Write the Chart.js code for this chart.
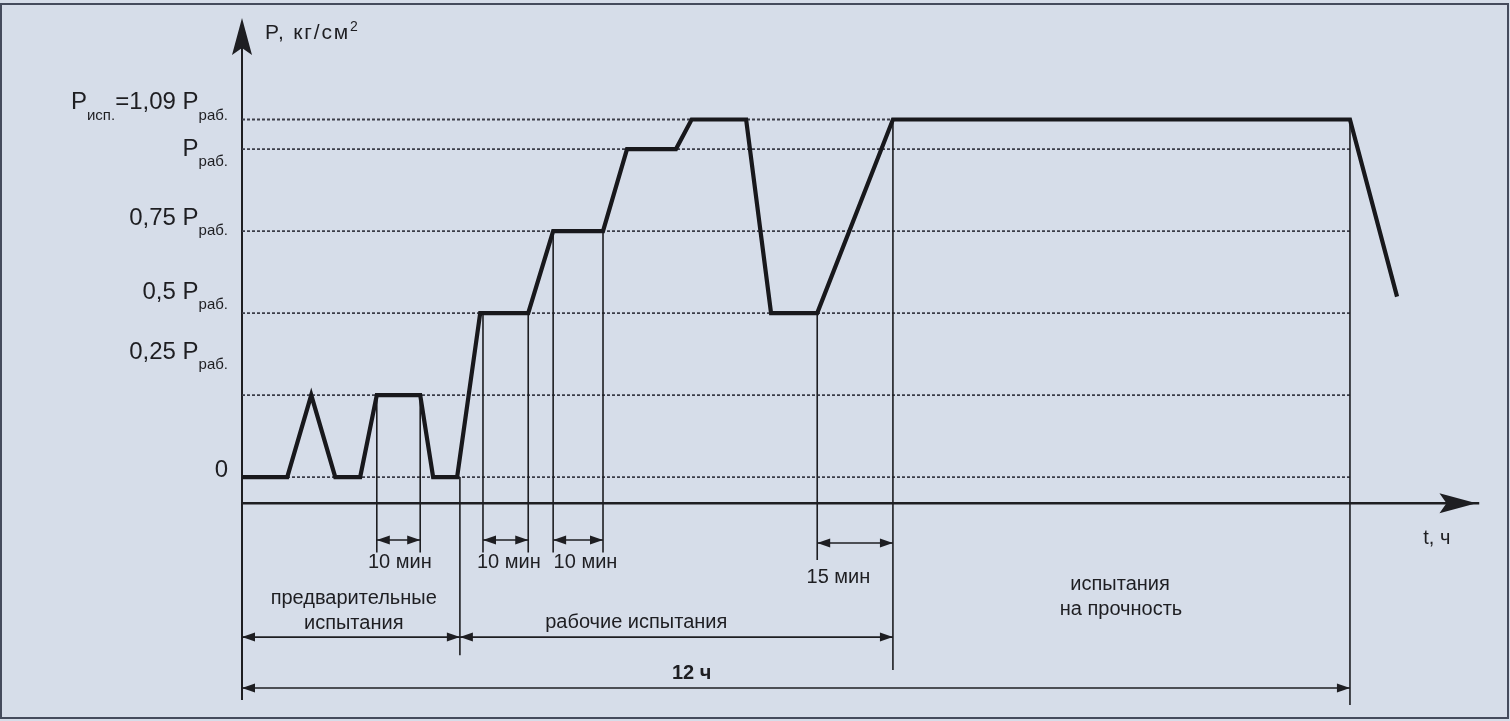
<!DOCTYPE html>
<html>
<head>
<meta charset="utf-8">
<script src="https://cdn.jsdelivr.net/npm/chart.js@4.4.1/dist/chart.umd.min.js"></script>
<style>
  html, body { margin: 0; padding: 0; background: #d6dde9; }
  #wrap { width: 1510px; height: 721px; position: relative; }
</style>
</head>
<body>
<div id="wrap"><canvas id="chart"></canvas></div>
<script>
// time in hours (schematic), pressure as a share of P раб.
const timeH    = [0, 0.49, 0.75, 1.01, 1.28, 1.46, 1.93, 2.07, 2.33, 2.58, 3.10, 3.37, 3.91, 4.17, 4.70, 4.87, 5.46, 5.73, 6.23, 7.05, 12.0, 12.51];
const pressure = [0, 0,    0.25, 0,    0,    0.25, 0.25, 0,    0,    0.5,  0.5,  0.75, 0.75, 1.0,  1.0,  1.09, 1.09, 0.5,  0.5,  1.09, 1.09, 0.55];

// pressure levels (dotted lines) and their labels
const levels = [0, 0.25, 0.5, 0.75, 1.0, 1.09];
const levelLabels = [
  [['0']],
  [['0,25 P'], ['раб.', 1]],
  [['0,5 P'], ['раб.', 1]],
  [['0,75 P'], ['раб.', 1]],
  [['P'], ['раб.', 1]],
  [['P'], ['исп.', 1], ['=1,09 P'], ['раб.', 1]]
];

// thin vertical marks: time, from level, down to
const markX      = [1.46, 1.93, 2.36, 2.61, 3.10, 3.37, 3.91, 6.23, 7.05, 12.0];
const markTop    = [0.25, 0.25, 0,    0.5,  0.5,  0.75, 0.75, 0.5,  1.09, 1.09];
const markBottom = [-0.23, -0.23, -0.543, -0.23, -0.23, -0.23, -0.23, -0.253, -0.588, -0.695];

// dimension arrows: from, to, level
const spanFrom  = [1.46, 2.61, 3.37, 6.23, 0,      2.36,   0];
const spanTo    = [1.93, 3.10, 3.91, 7.05, 2.36,   7.05,   12.0];
const spanLevel = [-0.192, -0.192, -0.192, -0.201, -0.488, -0.488, -0.643];

// captions under the axis
const noteText = ['10 мин', '10 мин', '10 мин', '15 мин', 'предварительные', 'испытания', 'рабочие испытания', 'испытания', 'на прочность', '12 ч', 't, ч'];
const noteX    = [1.71, 2.89, 3.72, 6.46, 1.21, 1.21, 4.27, 9.51, 9.52, 4.87, 12.94];
const noteY    = [-0.259, -0.259, -0.259, -0.305, -0.369, -0.445, -0.442, -0.329, -0.405, -0.598, -0.186];

const INK = '#1e1e22';
const FONT = '"Liberation Sans", Arial, sans-serif';
const labelShift = [-7, -43, -21, -13, 0, -17];

const datasets = [{
  data: timeH.map((t, i) => ({x: t, y: pressure[i]})),
  borderColor: '#18181c',
  borderWidth: 4.2,
  borderJoinStyle: 'miter',
  pointRadius: 0,
  tension: 0,
  order: 0
}];
markX.forEach((t, i) => datasets.push({
  data: [{x: t, y: markTop[i]}, {x: t, y: markBottom[i]}],
  borderColor: INK,
  borderWidth: 1.6,
  pointRadius: 0,
  order: 1
}));
levels.forEach(l => datasets.push({
  data: [{x: 0, y: l}, {x: 12, y: l}],
  borderColor: '#3b3d48',
  borderWidth: 1.8,
  borderDash: [3, 2],
  pointRadius: 0,
  order: 2
}));

function arrowHead(ctx, x, y, dir, len, half) {
  ctx.beginPath();
  if (dir === 'up') {
    ctx.moveTo(x, y); ctx.lineTo(x - half, y + len); ctx.lineTo(x, y + len - 7); ctx.lineTo(x + half, y + len);
  } else {
    ctx.moveTo(x, y); ctx.lineTo(x - len, y - half); ctx.lineTo(x - len + 7, y); ctx.lineTo(x - len, y + half);
  }
  ctx.closePath();
  ctx.fill();
}

function smallHead(ctx, x, y, dir) {
  ctx.beginPath();
  const s = dir === 'right' ? -1 : 1;
  ctx.moveTo(x, y);
  ctx.lineTo(x + s * 13, y - 4.5);
  ctx.lineTo(x + s * 13, y + 4.5);
  ctx.closePath();
  ctx.fill();
}

function richText(ctx, parts, xRight, yMid) {
  const MAIN = '24px ' + FONT, SUB = '15px ' + FONT;
  let w = 0;
  parts.forEach(p => { ctx.font = p[1] ? SUB : MAIN; w += ctx.measureText(p[0]).width; });
  let x = xRight - w;
  parts.forEach(p => {
    ctx.font = p[1] ? SUB : MAIN;
    ctx.fillText(p[0], x, p[1] ? yMid + 13 : yMid);
    x += ctx.measureText(p[0]).width;
  });
}

const overlay = {
  id: 'overlay',
  beforeDatasetsDraw(chart) {
    const ctx = chart.ctx, sx = chart.scales.x, sy = chart.scales.y;
    const x0 = sx.getPixelForValue(0);
    ctx.save();
    ctx.strokeStyle = INK;
    ctx.fillStyle = INK;
    // P axis
    ctx.lineWidth = 2;
    ctx.beginPath();
    ctx.moveTo(x0, sy.getPixelForValue(-0.68));
    ctx.lineTo(x0, sy.getPixelForValue(1.37));
    ctx.stroke();
    arrowHead(ctx, x0, sy.getPixelForValue(1.3995), 'up', 37, 10);
    // t axis
    const ty = sy.getPixelForValue(-0.08);
    ctx.lineWidth = 2.4;
    ctx.beginPath();
    ctx.moveTo(x0, ty);
    ctx.lineTo(sx.getPixelForValue(13.4), ty);
    ctx.stroke();
    arrowHead(ctx, sx.getPixelForValue(13.37), ty, 'right', 37, 10);
    ctx.restore();
  },
  afterDatasetsDraw(chart) {
    const ctx = chart.ctx, sx = chart.scales.x, sy = chart.scales.y;
    const x0 = sx.getPixelForValue(0);
    ctx.save();
    ctx.fillStyle = INK;
    ctx.strokeStyle = INK;
    ctx.textBaseline = 'middle';

    // level labels
    ctx.textAlign = 'left';
    levels.forEach((l, i) => richText(ctx, levelLabels[i], x0 - 14, sy.getPixelForValue(l) + labelShift[i]));

    // axis title
    ctx.font = '21px ' + FONT;
    ctx.letterSpacing = '1.8px';
    ctx.fillText('P, кг/см', x0 + 23, 33);
    const tw = ctx.measureText('P, кг/см').width;
    ctx.font = '14px ' + FONT;
    ctx.fillText('2', x0 + 23 + tw, 27);
    ctx.letterSpacing = '0px';

    // dimension arrows
    ctx.lineWidth = 1.6;
    spanFrom.forEach((a, i) => {
      const xa = sx.getPixelForValue(a), xb = sx.getPixelForValue(spanTo[i]), y = sy.getPixelForValue(spanLevel[i]);
      ctx.beginPath();
      ctx.moveTo(xa, y);
      ctx.lineTo(xb, y);
      ctx.stroke();
      smallHead(ctx, xa, y, 'left');
      smallHead(ctx, xb, y, 'right');
    });

    // captions
    ctx.textAlign = 'center';
    noteText.forEach((t, i) => {
      ctx.font = (t === '12 ч' ? 'bold ' : '') + '20px ' + FONT;
      ctx.fillText(t, sx.getPixelForValue(noteX[i]), sy.getPixelForValue(noteY[i]));
    });

    // frame of the figure
    ctx.strokeStyle = '#454b5c';
    ctx.lineWidth = 2;
    ctx.strokeRect(1, 4, 1507, 714);
    ctx.restore();
  }
};

new Chart(document.getElementById('chart'), {
  type: 'line',
  data: { datasets: datasets },
  options: {
    responsive: true,
    maintainAspectRatio: false,
    animation: false,
    layout: { padding: { left: 242, right: 10, top: 18, bottom: 16 } },
    plugins: { legend: { display: false }, tooltip: { enabled: false } },
    elements: { line: { fill: false } },
    scales: {
      x: { type: 'linear', min: 0, max: 13.625, display: false },
      y: { type: 'linear', min: -0.695, max: 1.3995, display: false }
    }
  },
  plugins: [overlay]
});
</script>
</body>
</html>
